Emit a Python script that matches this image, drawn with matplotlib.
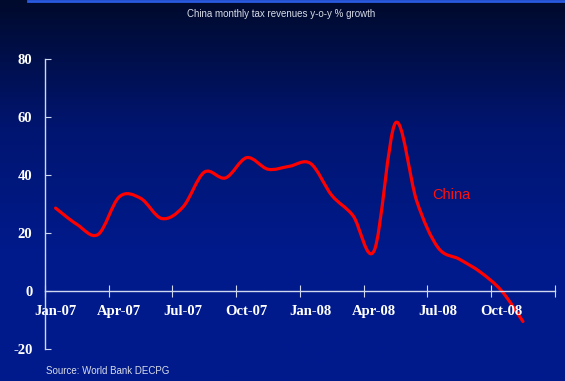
import numpy as np
import matplotlib
matplotlib.use('Agg')
import matplotlib.pyplot as plt
from matplotlib.path import Path
from matplotlib.patches import PathPatch
from matplotlib.colors import LinearSegmentedColormap

plt.rcParams['axes.unicode_minus'] = False

# monthly y-o-y growth, Jan-07 .. Nov-08
months = ['Jan-07', 'Feb-07', 'Mar-07', 'Apr-07', 'May-07', 'Jun-07',
          'Jul-07', 'Aug-07', 'Sep-07', 'Oct-07', 'Nov-07', 'Dec-07',
          'Jan-08', 'Feb-08', 'Mar-08', 'Apr-08', 'May-08', 'Jun-08',
          'Jul-08', 'Aug-08', 'Sep-08', 'Oct-08', 'Nov-08']
china = [28.6, 23, 19.5, 32.5, 32, 25, 29, 41, 39, 46, 42, 43,
         44, 33, 26, 14, 58, 31, 15, 11, 6.5, 0, -10.5]
tick_labels = ['Jan-07', 'Apr-07', 'Jul-07', 'Oct-07',
               'Jan-08', 'Apr-08', 'Jul-08', 'Oct-08']
n_cat = 24


def smooth_path(x, y, t=1/6.):
    # catmull-rom style bezier through the points (like excel "smoothed line")
    x = np.asarray(x, float)
    y = np.asarray(y, float)
    verts = [(x[0], y[0])]
    codes = [Path.MOVETO]
    n = len(x)
    for i in range(n - 1):
        x0, y0 = (x[i - 1], y[i - 1]) if i > 0 else (x[i], y[i])
        x3, y3 = (x[i + 2], y[i + 2]) if i + 2 < n else (x[i + 1], y[i + 1])
        c1 = (x[i] + (x[i + 1] - x0) * t, y[i] + (y[i + 1] - y0) * t)
        c2 = (x[i + 1] - (x3 - x[i]) * t, y[i + 1] - (y3 - y[i]) * t)
        verts += [c1, c2, (x[i + 1], y[i + 1])]
        codes += [Path.CURVE4] * 3
    return Path(verts, codes)


fig = plt.figure(figsize=(5.65, 3.81), dpi=100)

# gradient background
bg = fig.add_axes([0, 0, 1, 1], zorder=0)
cmap = LinearSegmentedColormap.from_list('bg', ['#000a2c', '#001570', '#001a8c', '#001a8c'])
grad = np.linspace(0, 1, 256).reshape(-1, 1)
bg.imshow(grad, aspect='auto', cmap=cmap, extent=[0, 1, 0, 1], origin='upper')
bg.plot([0.05, 1], [0.998, 0.998], color='#2a5ae0', lw=2, transform=bg.transAxes)
bg.set_xlim(0, 1)
bg.set_ylim(0, 1)
bg.axis('off')

ax = fig.add_axes([0.0796, 0.084, 0.9024, 0.761], zorder=1)
ax.patch.set_alpha(0)

xs = np.arange(len(china))
ax.add_patch(PathPatch(smooth_path(xs, china), facecolor='none',
                       edgecolor='#ff0000', lw=2.3, capstyle='round',
                       joinstyle='round', clip_on=False))
ax.plot(xs, china, alpha=0)

ax.set_xlim(-0.5, n_cat - 0.5)
ax.set_ylim(-20, 80)

axis_col = '#d0d8f0'
for s in ['top', 'right']:
    ax.spines[s].set_visible(False)
ax.spines['bottom'].set_position(('data', 0))
ax.spines['left'].set_color(axis_col)
ax.spines['bottom'].set_color(axis_col)
ax.spines['left'].set_linewidth(1)
ax.spines['bottom'].set_linewidth(1)

ax.set_yticks([-20, 0, 20, 40, 60, 80])
ax.tick_params(axis='y', direction='in', length=4, color=axis_col,
               labelcolor='white', pad=9)
ax.set_xticks(np.arange(-0.5, n_cat, 3))
ax.set_xticklabels([])
ax.tick_params(axis='x', which='major', direction='inout', length=8,
               color=axis_col)
ax.set_xticks(np.arange(0, n_cat - 2, 3), minor=True)
ax.set_xticklabels(tick_labels, minor=True)
ax.tick_params(axis='x', which='minor', length=0, labelcolor='white', pad=10)
for lab in ax.get_yticklabels() + ax.get_xticklabels(minor=True):
    lab.set_fontfamily('Liberation Serif')
    lab.set_fontweight('bold')
    lab.set_fontsize(10.5)

ax.text(17.75, 33, 'China', color='#ff1010', fontsize=10.5,
        fontfamily='Liberation Sans', va='center', ha='left')

fig.text(0.497, 0.963, 'China monthly tax revenues y-o-y % growth',
         color='#d8dce8', fontsize=7, fontfamily='Liberation Sans',
         ha='center', va='center')
fig.text(0.081, 0.026, 'Source: World Bank DECPG', color='#d8dce8',
         fontsize=7, fontfamily='Liberation Sans', ha='left', va='center')

fig.savefig('out.png', dpi=100)
